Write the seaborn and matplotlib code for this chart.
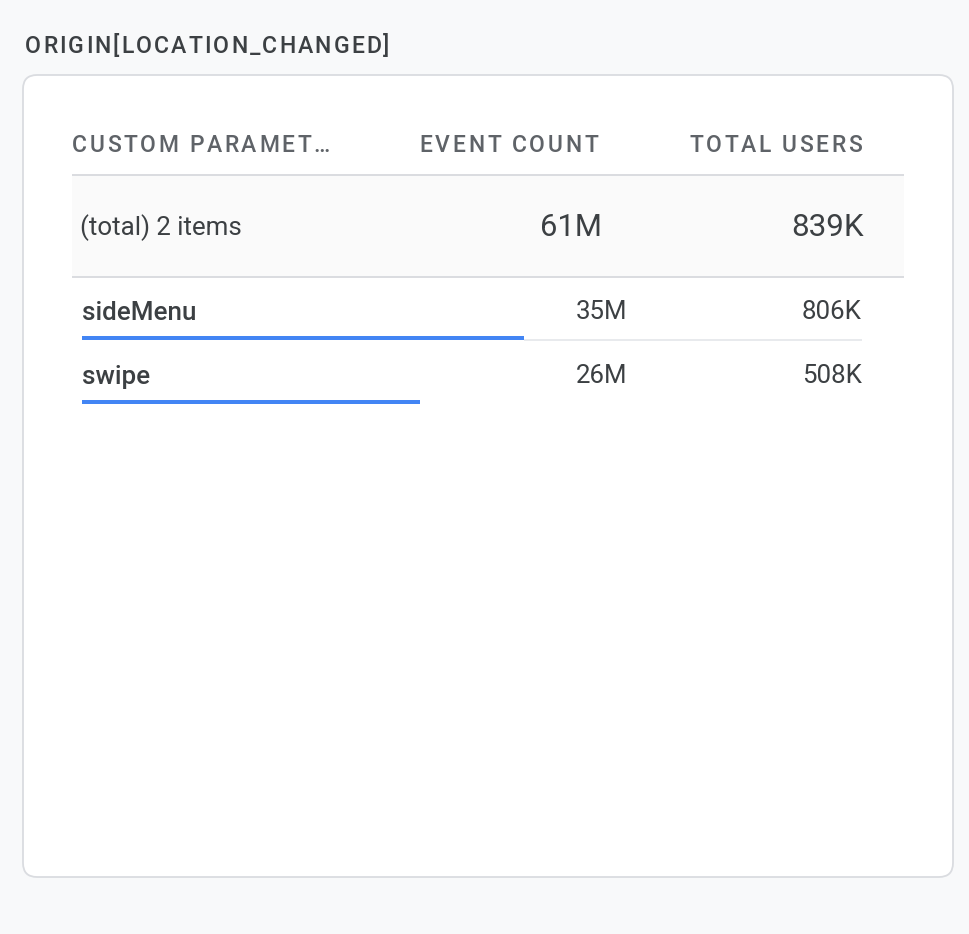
import matplotlib
matplotlib.use("Agg")
import matplotlib.pyplot as plt
import seaborn as sns
from matplotlib.patches import FancyBboxPatch, Rectangle
from matplotlib.font_manager import FontProperties, findfont
from matplotlib.ft2font import FT2Font, LOAD_NO_HINTING

title = "ORIGIN[LOCATION_CHANGED]"
columns = ["CUSTOM PARAMET\u2026", "EVENT COUNT", "TOTAL USERS"]
names = ["sideMenu", "swipe"]
event_count = [34.6, 26.4]          # millions
event_labels = ["35M", "26M"]
user_labels = ["806K", "508K"]
total_label = "(total) 2 items"
total_event = 61.0
total_event_label = "61M"
total_users_label = "839K"

BLUE = "#4285f4"
DARK = "#3c4043"
GREY = "#5f6368"
LINE = "#dadce0"

sns.set_theme(style="white")
plt.rcParams["font.family"] = ["Roboto", "DejaVu Sans"]

fig = plt.figure(figsize=(9.7, 9.34), dpi=100)
fig.patch.set_facecolor("#f8f9fa")
ax = fig.add_axes([0, 0, 1, 1])
ax.set_xlim(0, 970)
ax.set_ylim(934, 0)
ax.axis("off")


def spaced_text(x, y, s, size, weight, color, spacing, ha="left"):
    # matplotlib has no letter-spacing, so lay the glyphs out one by one
    prop = FontProperties(family="Roboto", weight=weight, size=size)
    font = FT2Font(findfont(prop))
    font.set_size(size, 100)
    advs = [font.load_char(ord(c), flags=LOAD_NO_HINTING).linearHoriAdvance / 65536 for c in s]
    width = sum(advs) + spacing * (len(s) - 1)
    x0 = x - width if ha == "right" else x
    for c, a in zip(s, advs):
        if c != " ":
            ax.text(x0, y, c, fontproperties=prop, color=color, va="baseline", ha="left")
        x0 += a + spacing


# card
card = FancyBboxPatch((23, 75), 930, 802, boxstyle="round,pad=0,rounding_size=14",
                      fc="white", ec=LINE, lw=1.3)
ax.add_patch(card)

spaced_text(25, 53, title, 16.6, "medium", DARK, 2.1)

# header
spaced_text(72, 152, columns[0], 16.5, "medium", GREY, 2.6)
spaced_text(598, 152, columns[1], 16.5, "medium", GREY, 2.6, ha="right")
spaced_text(862, 152, columns[2], 16.5, "medium", GREY, 2.6, ha="right")

# total row
ax.add_patch(Rectangle((72, 175), 832, 102, fc="#fafafa", ec="none"))
ax.hlines([175, 277], 72, 904, color=LINE, lw=1.4)
ax.text(80, 235, total_label, fontsize=18.6, color=DARK, va="baseline", ha="left")
ax.text(602, 236, total_event_label, fontsize=22.3, color=DARK, va="baseline", ha="right")
ax.text(864, 236, total_users_label, fontsize=22.6, color=DARK, va="baseline", ha="right")

# rows
row_base = [320, 384]
for name, ev, us, yb in zip(names, event_labels, user_labels, row_base):
    ax.text(82, yb, name, fontsize=18.7, fontweight="medium", color=DARK, va="baseline", ha="left")
    ax.text(627, yb - 1, ev, fontsize=18.6, color=DARK, va="baseline", ha="right")
    ax.text(861.5, yb - 1, us, fontsize=18.6, color=DARK, va="baseline", ha="right")

# bars under the names, scaled to the total event count
row_px = 63.5
top = 338 - row_px / 2
bax = fig.add_axes([82 / 970, 1 - (top + 2 * row_px) / 934, 780 / 970, 2 * row_px / 934])
sns.barplot(x=event_count, y=names, orient="h", color=BLUE, saturation=1,
            width=4 / row_px, linewidth=0, ax=bax)
for i in range(len(names) - 1):
    bax.hlines(i + 1.5 / row_px, event_count[i], total_event, color="#e8eaed", lw=1.4)
bax.set_xlim(0, total_event)
bax.set_ylim(1.5, -0.5)
bax.axis("off")

fig.savefig("out.png", dpi=100, facecolor=fig.get_facecolor())
